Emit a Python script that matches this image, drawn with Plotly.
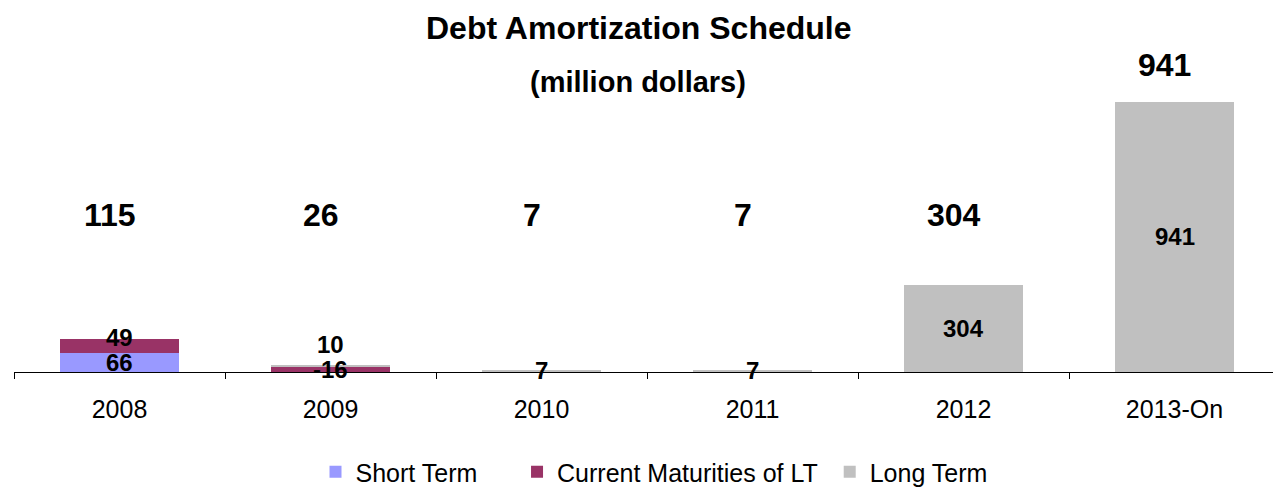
import plotly.graph_objects as go

categories = ["2008", "2009", "2010", "2011", "2012", "2013-On"]
short_term = [66, 0, 0, 0, 0, 0]
current_maturities = [49, 16, 0, 0, 0, 0]
long_term = [0, 10, 7, 7, 304, 941]
totals = [115, 26, 7, 7, 304, 941]

st_labels = ["66", "", "", "", "", ""]
cm_labels = ["49", "-16", "", "", "", ""]
lt_labels = ["", "10", "7", "7", "304", "941"]
total_labels = ["115", "26", "7", "7", "304", "941"]

FONT = "Arial, 'Liberation Sans', Helvetica, sans-serif"
colors = {"st": "#9999FF", "cm": "#993366", "lt": "#C0C0C0"}

W, H = 1273, 487
plot_left, plot_bottom_px = 14, 372
px_per_unit = 270 / 941.0
ymax = 1100
plot_h = ymax * px_per_unit
top_margin = plot_bottom_px - plot_h
cat_px = 211.0
x_lo = -0.5
x_hi = x_lo + (W - plot_left) / cat_px

NB = "\u00a0"
legend_names = ["Short Term" + NB * 5, "Current Maturities of LT" + NB, "Long Term"]

fig = go.Figure()
series = [
    (legend_names[0], short_term, colors["st"]),
    (legend_names[1], current_maturities, colors["cm"]),
    (legend_names[2], long_term, colors["lt"]),
]
for name, vals, col in series:
    fig.add_trace(go.Bar(
        x=categories, y=vals, name=name, marker=dict(color=col, line=dict(width=0)),
        width=0.56, hoverinfo="skip",
    ))

annotations = []
seg_font = dict(family=FONT, size=24, color="black")
label_shift = {("cm", 0): 9, ("lt", 1): 21}
base = [0] * len(categories)
for key, vals, labs in [("st", short_term, st_labels), ("cm", current_maturities, cm_labels),
                        ("lt", long_term, lt_labels)]:
    for i, (v, t) in enumerate(zip(vals, labs)):
        if t:
            annotations.append(dict(
                x=i, y=base[i] + v / 2.0, xref="x", yref="y", text="<b>%s</b>" % t,
                showarrow=False, font=seg_font, yshift=label_shift.get((key, i), 0),
                yanchor="middle", xanchor="center",
            ))
        base[i] += v

label_floor = 547
label_gap = 129
for i, t in enumerate(total_labels):
    annotations.append(dict(
        x=i, y=max(totals[i] + label_gap, label_floor), xref="x", yref="y",
        text="<b>%s</b>" % t, showarrow=False, xshift=-10,
        yanchor="middle", xanchor="center",
        font=dict(family=FONT, size=32, color="black"),
    ))

def py(p):
    return (plot_bottom_px - p) / plot_h

annotations.append(dict(x=0.5, xref="paper", y=py(28), yref="paper", text="<b>Debt Amortization Schedule</b>",
                        showarrow=False, yanchor="middle", font=dict(family=FONT, size=32, color="black"), xshift=-5))
annotations.append(dict(x=0.5, xref="paper", y=py(82), yref="paper", text="<b>(million dollars)</b>",
                        showarrow=False, yanchor="middle", font=dict(family=FONT, size=29, color="black"), xshift=-6))

fig.update_layout(
    width=W, height=H,
    margin=dict(l=plot_left, r=0, t=top_margin, b=H - plot_bottom_px, pad=0),
    barmode="stack",
    plot_bgcolor="white", paper_bgcolor="white",
    font=dict(family=FONT, color="black"),
    showlegend=True,
    legend=dict(
        orientation="h", x=654 / W, xanchor="center", xref="container",
        y=(H - 472) / H, yref="container", yanchor="middle",
        font=dict(family=FONT, size=25, color="black"),
        bgcolor="rgba(0,0,0,0)", traceorder="normal", itemwidth=30,
    ),
    annotations=annotations,
)
fig.update_xaxes(
    type="category", range=[x_lo, x_hi], showline=True, linecolor="black", linewidth=1,
    ticks="outside", tickson="boundaries", ticklen=6, tickcolor="black", tickwidth=1,
    tickfont=dict(family=FONT, size=25, color="black"), showgrid=False, zeroline=False,
    ticklabelstandoff=15,
)
fig.update_yaxes(range=[0, ymax], visible=False, showgrid=False, zeroline=False)

fig.write_html("out.html")
